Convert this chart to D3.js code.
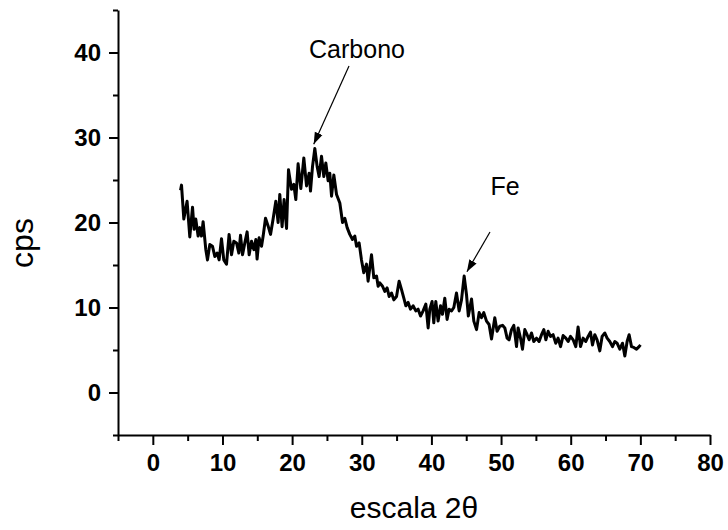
<!DOCTYPE html>
<html>
<head>
<meta charset="utf-8">
<script src="https://cdn.jsdelivr.net/npm/d3@7"></script>
<style>
  html, body { margin: 0; padding: 0; background: #fff; }
  svg { display: block; }
</style>
</head>
<body>
<svg id="chart" width="728" height="530"></svg>
<script>
// ---- data ----
const twoTheta = [3.98,4.12,4.45,4.92,5.31,5.70,5.93,6.17,6.50,6.75,6.99,7.22,7.61,7.85,8.18,8.57,8.90,9.23,9.52,9.86,
  10.19,10.58,10.95,11.30,11.63,12.02,12.35,12.59,12.88,13.21,13.54,13.83,14.17,14.50,14.79,14.97,15.26,15.61,15.84,16.18,
  16.55,16.90,17.27,17.66,17.99,18.23,18.56,18.85,19.20,19.48,19.91,20.24,20.53,20.86,21.25,21.68,22.07,22.44,22.64,22.93,
  23.26,23.59,23.88,24.22,24.55,24.84,25.17,25.41,25.66,25.99,26.38,26.85,27.24,27.57,27.90,28.28,28.67,29.00,29.25,29.62,
  29.96,30.29,30.68,30.91,31.40,31.73,32.12,32.35,32.59,32.98,33.31,33.64,33.93,34.27,34.60,34.99,35.36,35.71,36.04,36.33,
  36.66,37.00,37.37,37.76,38.09,38.44,38.81,39.20,39.53,39.77,40.10,40.34,40.63,40.96,41.31,41.59,41.92,42.25,42.54,42.89,
  43.22,43.60,43.98,44.32,44.70,45.04,45.30,45.76,46.09,46.48,46.85,47.19,47.52,47.91,48.28,48.63,49.10,49.43,49.82,50.21,
  50.54,50.87,51.15,51.50,51.83,52.22,52.45,52.79,53.08,53.41,53.74,54.03,54.37,54.70,55.09,55.46,55.81,56.14,56.43,56.76,
  57.10,57.47,57.86,58.19,58.54,58.91,59.30,59.63,59.97,60.35,60.73,61.06,61.41,61.78,62.17,62.50,62.84,63.13,63.46,63.79,
  64.18,64.51,64.90,65.23,65.61,66.00,66.33,66.66,67.05,67.44,67.77,68.10,68.39,68.73,69.06,69.45,69.82,70.02];
const cps = [23.8,24.4,20.4,22.5,18.3,21.8,19.2,20.4,18.4,19.4,18.4,20.1,16.8,15.6,17.4,17.2,16.0,16.4,15.6,18.1,
  15.6,15.1,18.6,16.2,17.8,17.6,16.4,18.5,16.2,17.6,18.9,16.2,17.8,16.8,18.0,15.7,18.2,17.2,18.4,20.5,
  19.6,18.6,20.4,22.5,20.0,23.3,19.5,22.7,19.3,26.2,23.9,24.5,22.7,26.9,24.0,27.6,24.3,25.8,23.7,26.6,
  28.7,26.6,25.4,27.8,25.4,27.0,24.9,25.8,23.1,25.6,23.3,22.3,20.0,20.5,19.4,18.6,18.0,18.4,17.2,17.6,
  15.6,14.1,15.1,13.1,16.2,13.5,13.7,12.5,12.9,12.5,11.9,12.3,11.3,11.7,10.9,11.3,13.1,12.1,11.1,10.2,
  10.6,9.8,10.2,9.6,9.8,9.0,9.6,10.4,7.6,9.8,10.7,8.2,10.7,8.4,10.2,9.2,11.1,8.6,9.8,9.6,
  10.0,11.7,9.6,10.9,13.7,11.5,9.0,11.0,8.4,7.4,9.4,8.8,9.4,8.4,8.0,6.3,8.8,7.2,7.8,7.9,
  7.6,6.4,6.2,7.4,7.9,5.4,7.6,6.4,5.1,7.4,6.8,6.2,7.0,6.0,6.4,6.0,6.8,7.4,6.2,7.2,
  6.6,6.8,5.8,6.4,5.4,6.7,6.4,6.0,6.6,6.2,5.4,7.7,5.4,6.4,6.0,6.6,7.1,5.6,6.8,6.2,
  4.9,6.6,7.0,6.4,6.0,5.4,6.0,5.8,5.1,5.8,4.3,6.0,6.8,5.4,5.3,5.1,5.4,5.6];
const xTickLabels = [0, 10, 20, 30, 40, 50, 60, 70, 80];
const yTickLabels = [0, 10, 20, 30, 40];
const annotations = [
  { label: "Carbono", x: 23.1, y: 29.2 },
  { label: "Fe", x: 45.1, y: 14.2 }
];

// ---- layout ----
const svg = d3.select("#chart");
const x = d3.scaleLinear().domain([-5, 80]).range([118, 710]);
const y = d3.scaleLinear().domain([-5, 45]).range([435, 10]);

const minorX = d3.range(-5, 80, 10);
const minorY = d3.range(-5, 46, 10);
const FONT = "Liberation Sans, Arial, sans-serif";

// x axis
const gx = svg.append("g").attr("transform", `translate(0,${y(-5)})`);
gx.call(d3.axisBottom(x).tickValues(xTickLabels).tickSize(10).tickSizeOuter(0).tickPadding(9).tickFormat(d3.format("d")));
gx.append("g").call(d3.axisBottom(x).tickValues(minorX).tickSize(6).tickFormat("")).select(".domain").remove();
gx.selectAll("text").attr("font-family", FONT).attr("font-weight", "bold").attr("font-size", 24).attr("fill", "#000");

// y axis
const gy = svg.append("g").attr("transform", `translate(${x(-5)},0)`);
gy.call(d3.axisLeft(y).tickValues(yTickLabels).tickSize(9).tickSizeOuter(0).tickPadding(8).tickFormat(d3.format("d")));
gy.append("g").call(d3.axisLeft(y).tickValues(minorY).tickSize(5).tickFormat("")).select(".domain").remove();
gy.selectAll("text").attr("font-family", FONT).attr("font-weight", "bold").attr("font-size", 24).attr("fill", "#000");

svg.selectAll(".domain, .tick line").attr("stroke", "#000").attr("stroke-width", 2);

// curve
const line = d3.line().x((d, i) => x(twoTheta[i])).y(d => y(d));
svg.append("path").datum(cps).attr("d", line)
  .attr("fill", "none").attr("stroke", "#000").attr("stroke-width", 3).attr("stroke-linejoin", "round");

// axis titles
svg.append("text").attr("x", 414).attr("y", 518).attr("text-anchor", "middle")
  .attr("font-family", FONT).attr("font-size", 30).text("escala 2θ");
svg.append("text").attr("transform", "translate(33,243) rotate(-90)").attr("text-anchor", "middle")
  .attr("font-family", FONT).attr("font-size", 32).text("cps");

// annotations
const defs = svg.append("defs");
defs.append("marker").attr("id", "arrow").attr("viewBox", "0 0 10 10").attr("refX", 10).attr("refY", 5)
  .attr("markerWidth", 12).attr("markerHeight", 12).attr("markerUnits", "userSpaceOnUse").attr("orient", "auto")
  .append("path").attr("d", "M0,1.5 L10,5 L0,8.5 z").attr("fill", "#000");

const ann = [
  { text: annotations[0].label, tx: 357, ty: 58, x1: 349, y1: 66, tip: annotations[0] },
  { text: annotations[1].label, tx: 505, ty: 195, x1: 490, y1: 232, tip: annotations[1] }
];
ann.forEach(a => {
  svg.append("text").attr("x", a.tx).attr("y", a.ty).attr("text-anchor", "middle")
    .attr("font-family", FONT).attr("font-size", 25).text(a.text);
  svg.append("line").attr("x1", a.x1).attr("y1", a.y1).attr("x2", x(a.tip.x)).attr("y2", y(a.tip.y))
    .attr("stroke", "#000").attr("stroke-width", 1.2).attr("marker-end", "url(#arrow)");
});
</script>
</body>
</html>
